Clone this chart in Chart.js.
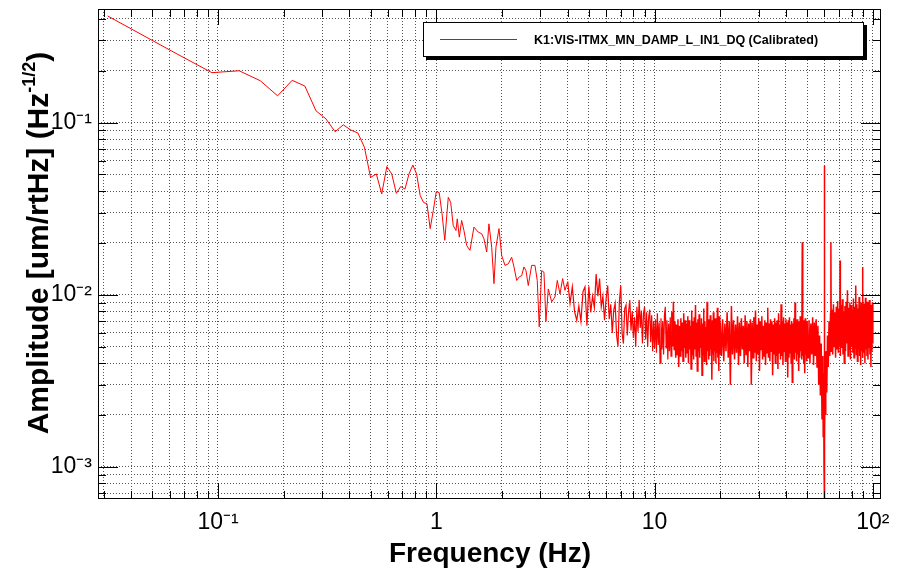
<!DOCTYPE html>
<html>
<head>
<meta charset="utf-8">
<script src="https://cdn.jsdelivr.net/npm/chart.js@4.4.0/dist/chart.umd.min.js"></script>
<style>
  html, body { margin: 0; padding: 0; background: #fff; }
  #wrap { position: relative; width: 902px; height: 577px; font-family: "Liberation Sans", Arial, sans-serif; color: #000; }
  #c { position: absolute; left: 0; top: 0; }
  .legend { position: absolute; left: 423px; top: 22px; width: 439px; height: 33px; border: 1px solid #000; background: #fff; box-shadow: 3px 3px 0 #000; }
  .legend .swatch { position: absolute; left: 16px; top: 16px; width: 77px; border-top: 1px solid #ff0000; }
  .legend .label { position: absolute; left: 110px; top: 10px; font-weight: bold; font-size: 12.5px; line-height: 14px; white-space: nowrap; }
  .xtitle { position: absolute; left: 290px; width: 400px; top: 538px; text-align: center; font-weight: bold; font-size: 28px; line-height: 30px; white-space: nowrap; }
  .ytitle { position: absolute; left: -212px; width: 500px; top: 226px; height: 34px; text-align: center; font-weight: bold; font-size: 30px; line-height: 34px; white-space: nowrap; transform: rotate(-90deg); }
  .ytitle sup { font-size: 18px; vertical-align: 13px; line-height: 0; }
</style>
</head>
<body>
<div id="wrap">
  <canvas id="c" width="902" height="577"></canvas>
  <div class="legend"><div class="swatch"></div><div class="label">K1:VIS-ITMX_MN_DAMP_L_IN1_DQ (Calibrated)</div></div>
  <div class="xtitle">Frequency (Hz)</div>
  <div class="ytitle">Amplitude [um/rtHz] (Hz<sup>-1/2</sup>)</div>
</div>
<script>
// ---- data ----
// low frequency part (bins of 1/32 Hz, then traced turning points)
const lowFreq = [0.03125, 0.0625, 0.09375, 0.125, 0.15625, 0.1875, 0.21875, 0.25, 0.28125, 0.3125,
  0.34375, 0.375, 0.40625, 0.4375, 0.46875, 0.5, 0.53125, 0.5625, 0.59375, 0.625,
  0.65625, 0.6875, 0.71875, 0.75, 0.78125, 0.8125, 0.84375, 0.875, 0.90625, 0.9375,
  0.96875, 1.0, 1.03125, 1.0625, 1.09375,
  1.135, 1.164, 1.196, 1.231, 1.248, 1.275, 1.307, 1.339, 1.378, 1.427,
  1.488, 1.557, 1.614, 1.654, 1.702, 1.743, 1.794, 1.838, 1.877, 1.938,
  1.994, 2.064, 2.137, 2.215, 2.270, 2.335, 2.400, 2.462, 2.522, 2.576,
  2.639, 2.735, 2.832, 2.901, 2.963, 3.039, 3.114, 3.180, 3.259, 3.378,
  3.498, 3.584, 3.688, 3.793, 3.887];
const lowAmp = [0.416, 0.257, 0.195, 0.200, 0.175, 0.143, 0.176, 0.163, 0.117, 0.105,
  0.0885, 0.097, 0.0905, 0.0869, 0.0718, 0.048, 0.0503, 0.0385, 0.0555, 0.0503,
  0.0388, 0.0425, 0.0411, 0.0503, 0.0567, 0.0503, 0.0377, 0.0343, 0.0338, 0.0242,
  0.0308, 0.0397, 0.0392, 0.0296, 0.0207,
  0.0368, 0.0344, 0.0252, 0.0236, 0.0276, 0.0216, 0.0270, 0.0236, 0.0193, 0.0181,
  0.0247, 0.0231, 0.0226, 0.0211, 0.0177, 0.0258, 0.0189, 0.0116, 0.0189, 0.0242,
  0.0169, 0.0148, 0.0151, 0.0165, 0.0145, 0.0121, 0.0127, 0.0129, 0.0145, 0.0138,
  0.0113, 0.0148, 0.0148, 0.0121, 0.0065, 0.0138, 0.0135, 0.0070, 0.0108, 0.0091,
  0.0097, 0.0121, 0.0101, 0.0124, 0.0106];

// 4 - 20 Hz
const midFreq = [4.0, 4.1, 4.2, 4.3, 4.4, 4.5, 4.6, 4.7, 4.8, 4.9,
  5.0, 5.1, 5.2, 5.3, 5.4, 5.5, 5.6, 5.7, 5.8, 5.9,
  6.0, 6.1, 6.2, 6.3, 6.4, 6.5, 6.6, 6.7, 6.8, 6.9,
  7.0, 7.1, 7.2, 7.3, 7.4, 7.5, 7.6, 7.7, 7.8, 7.9,
  8.0, 8.1, 8.2, 8.3, 8.4, 8.5, 8.6, 8.7, 8.8, 8.9,
  9.0, 9.1, 9.2, 9.3, 9.4, 9.5, 9.6, 9.7, 9.8, 9.9,
  10.0, 10.1, 10.2, 10.3, 10.4, 10.5, 10.6, 10.7, 10.8, 10.9,
  11.0, 11.1, 11.2, 11.3, 11.4, 11.5, 11.6, 11.7, 11.8, 11.9,
  12.0, 12.1, 12.2, 12.3, 12.4, 12.5, 12.6, 12.7, 12.8, 12.9,
  13.0, 13.1, 13.2, 13.3, 13.4, 13.5, 13.6, 13.7, 13.8, 13.9,
  14.0, 14.1, 14.2, 14.3, 14.4, 14.5, 14.6, 14.7, 14.8, 14.9,
  15.0, 15.1, 15.2, 15.3, 15.4, 15.5, 15.6, 15.7, 15.8, 15.9,
  16.0, 16.1, 16.2, 16.3, 16.4, 16.5, 16.6, 16.7, 16.8, 16.9,
  17.0, 17.1, 17.2, 17.3, 17.4, 17.5, 17.6, 17.7, 17.8, 17.9,
  18.0, 18.1, 18.2, 18.3, 18.4, 18.5, 18.6, 18.7, 18.8, 18.9,
  19.0, 19.1, 19.2, 19.3, 19.4, 19.5, 19.6, 19.7, 19.8, 19.9,
  20.0];
const midAmp = [0.0119, 0.0089, 0.0111, 0.0080, 0.0071, 0.0086, 0.0070, 0.0104, 0.0111, 0.0066,
  0.0112, 0.0079, 0.0098, 0.0084, 0.0132, 0.0098, 0.0124, 0.0085, 0.0098, 0.0071,
  0.0095, 0.0113, 0.0072, 0.0088, 0.0060, 0.0081, 0.0089, 0.0058, 0.0050, 0.0091,
  0.0113, 0.0060, 0.0052, 0.0083, 0.0087, 0.0058, 0.0079, 0.0093, 0.0062, 0.0080,
  0.0056, 0.0074, 0.0050, 0.0085, 0.0061, 0.0093, 0.0064, 0.0081, 0.0052, 0.0078,
  0.0085, 0.0055, 0.0079, 0.0050, 0.0074, 0.0082, 0.0053, 0.0076, 0.0047, 0.0070,
  0.0049, 0.0072, 0.0046, 0.0078, 0.0051, 0.0069, 0.0040, 0.0073, 0.0048, 0.0070,
  0.0045, 0.0076, 0.0085, 0.0049, 0.0071, 0.0042, 0.0068, 0.0047, 0.0074, 0.0044,
  0.0079, 0.0050, 0.0091, 0.0048, 0.0070, 0.0043, 0.0067, 0.0045, 0.0072, 0.0038,
  0.0066, 0.0044, 0.0073, 0.0047, 0.0069, 0.0041, 0.0078, 0.0049, 0.0071, 0.0043,
  0.0068, 0.0046, 0.0075, 0.0040, 0.0071, 0.0048, 0.0066, 0.0037, 0.0081, 0.0045,
  0.0070, 0.0042, 0.0074, 0.0048, 0.0087, 0.0044, 0.0069, 0.0036, 0.0072, 0.0047,
  0.0077, 0.0043, 0.0066, 0.0049, 0.0073, 0.0034, 0.0068, 0.0045, 0.0083, 0.0041,
  0.0070, 0.0046, 0.0065, 0.0039, 0.0091, 0.0047, 0.0072, 0.0042, 0.0067, 0.0044,
  0.0076, 0.0048, 0.0069, 0.0032, 0.0071, 0.0045, 0.0079, 0.0041, 0.0066, 0.0047,
  0.0073, 0.0040, 0.0070, 0.0046, 0.0084, 0.0043, 0.0068, 0.0036, 0.0075, 0.0045,
  0.0069];

// 20 - 50 Hz
const hiFreq = [20.25, 20.5, 20.75, 21, 21.25, 21.5, 21.75, 22, 22.25, 22.5, 22.75, 23,
  23.25, 23.5, 23.75, 24, 24.25, 24.5, 24.75, 25, 25.25, 25.5, 25.75, 26,
  26.25, 26.5, 26.75, 27, 27.25, 27.5, 27.75, 28, 28.25, 28.5, 28.75, 29,
  29.25, 29.5, 29.75, 30, 30.25, 30.5, 30.75, 31, 31.25, 31.5, 31.75, 32,
  32.25, 32.5, 32.75, 33, 33.25, 33.5, 33.75, 34, 34.25, 34.5, 34.75, 35,
  35.25, 35.5, 35.75, 36, 36.25, 36.5, 36.75, 37, 37.25, 37.5, 37.75, 38,
  38.25, 38.5, 38.75, 39, 39.25, 39.5, 39.75, 40, 40.25, 40.5, 40.75, 41,
  41.25, 41.5, 41.75, 42, 42.25, 42.5, 42.75, 43, 43.25, 43.5, 43.75, 44,
  44.25, 44.5, 44.75, 45, 45.25, 45.5, 45.75, 46, 46.25, 46.5, 46.75, 47,
  47.25, 47.5, 47.75, 48, 48.25, 48.5, 48.75, 49, 49.25, 49.5, 49.75, 50];
const hiAmp = [0.0044, 0.0072, 0.0041, 0.0068, 0.0047, 0.0079, 0.0043, 0.0070, 0.0030, 0.0086, 0.0045, 0.0071,
  0.0042, 0.0067, 0.0046, 0.0075, 0.0039, 0.0069, 0.0044, 0.0073, 0.0048, 0.0066, 0.0040, 0.0076,
  0.0045, 0.0070, 0.0038, 0.0068, 0.0047, 0.0072, 0.0030, 0.0069, 0.0043, 0.0074, 0.0046, 0.0081,
  0.0041, 0.0067, 0.0045, 0.0073, 0.0036, 0.0070, 0.0048, 0.0075, 0.0042, 0.0066, 0.0044, 0.0071,
  0.0039, 0.0069, 0.0046, 0.0084, 0.0043, 0.0068, 0.0041, 0.0072, 0.0047, 0.0070, 0.0034, 0.0067,
  0.0045, 0.0073, 0.0040, 0.0069, 0.0044, 0.0071, 0.0037, 0.0078, 0.0046, 0.0067, 0.0042, 0.0088,
  0.0044, 0.0070, 0.0039, 0.0074, 0.0047, 0.0068, 0.0041, 0.0072, 0.0045, 0.0069, 0.0033, 0.0071,
  0.0043, 0.0074, 0.0046, 0.0067, 0.0040, 0.0070, 0.0031, 0.0068, 0.0044, 0.0073, 0.0042, 0.0090,
  0.0046, 0.0069, 0.0041, 0.0072, 0.0045, 0.0070, 0.0036, 0.0068, 0.0043, 0.0075, 0.0047, 0.0066,
  0.0042, 0.0202, 0.0044, 0.0071, 0.0040, 0.0068, 0.0035, 0.0073, 0.0045, 0.0069, 0.0041, 0.0070];

// 50 - 100 Hz (60 Hz line and notch)
const topFreq = [50.5, 51, 51.5, 52, 52.5, 53, 53.5, 54, 54.5, 55, 55.5, 56, 56.5, 57, 57.5, 58, 58.5, 59,
  59.25, 59.5, 59.75, 59.9, 60, 60.1, 60.25, 60.5, 60.75, 61, 61.5, 62, 62.5, 63, 63.5, 64, 64.25, 64.5,
  65, 65.5, 66, 66.5, 67, 67.5, 68, 68.5, 69, 69.5, 70, 70.5, 70.75, 71, 71.5, 72, 72.5, 73, 73.5, 74,
  74.5, 75, 75.5, 76, 76.5, 77, 77.5, 78, 78.5, 79, 79.5, 80, 80.5, 81, 81.5, 82, 82.5, 83, 83.5, 84,
  84.5, 85, 85.5, 86, 86.5, 87, 87.5, 88, 88.5, 89, 89.5, 89.75, 90, 90.5, 91, 91.5, 92, 92.5, 93, 93.5,
  94, 94.5, 95, 95.5, 96, 96.5, 97, 97.5, 98, 98.5, 99, 99.5, 100];
const topAmp = [0.0043, 0.0071, 0.0040, 0.0068, 0.0045, 0.0074, 0.0039, 0.0069, 0.0044, 0.0072, 0.0038, 0.0066, 0.0030, 0.0058, 0.0026, 0.0052, 0.0019, 0.0044,
  0.0015, 0.0035, 0.0010, 0.0006, 0.0562, 0.0006, 0.0014, 0.0038, 0.0020, 0.0047, 0.0027, 0.0058, 0.0038, 0.0070, 0.0044, 0.0078, 0.0202, 0.0047,
  0.0082, 0.0045, 0.0088, 0.0050, 0.0079, 0.0043, 0.0085, 0.0048, 0.0092, 0.0046, 0.0083, 0.0051, 0.0158, 0.0044, 0.0087, 0.0049, 0.0094, 0.0045, 0.0080, 0.0040,
  0.0086, 0.0047, 0.0091, 0.0052, 0.0106, 0.0044, 0.0084, 0.0048, 0.0090, 0.0042, 0.0087, 0.0050, 0.0082, 0.0046, 0.0095, 0.0043, 0.0085, 0.0049, 0.0113, 0.0045,
  0.0088, 0.0041, 0.0083, 0.0048, 0.0097, 0.0044, 0.0086, 0.0039, 0.0090, 0.0047, 0.0084, 0.0145, 0.0043, 0.0089, 0.0046, 0.0082, 0.0040, 0.0096, 0.0048, 0.0085,
  0.0044, 0.0091, 0.0042, 0.0080, 0.0049, 0.0093, 0.0045, 0.0087, 0.0038, 0.0084, 0.0047, 0.0090, 0.0052];

// axis ticks
const xTickValues = [0.03, 0.04, 0.05, 0.06, 0.07, 0.08, 0.09,
  0.1, 0.2, 0.3, 0.4, 0.5, 0.6, 0.7, 0.8, 0.9,
  1, 2, 3, 4, 5, 6, 7, 8, 9,
  10, 20, 30, 40, 50, 60, 70, 80, 90, 100];
const xMajor = [0.1, 1, 10, 100];
const xMajorLabels = ["10\u207B\u00B9", "1", "10", "10\u00B2"];

const yTickValues = [0.0007, 0.0008, 0.0009,
  0.001, 0.002, 0.003, 0.004, 0.005, 0.006, 0.007, 0.008, 0.009,
  0.01, 0.02, 0.03, 0.04, 0.05, 0.06, 0.07, 0.08, 0.09,
  0.1, 0.2, 0.3, 0.4];
const yMajor = [0.001, 0.01, 0.1];
const yMajorLabels = ["10\u207B\u00B3", "10\u207B\u00B2", "10\u207B\u00B9"];

const FONT = '"Liberation Sans", Arial, sans-serif';

function toPoints(fs, as) {
  return fs.map((f, i) => ({ x: f, y: as[i] }));
}
const points = [].concat(
  toPoints(lowFreq, lowAmp),
  toPoints(midFreq, midAmp),
  toPoints(hiFreq, hiAmp),
  toPoints(topFreq, topAmp)
);

// ROOT style frame with inward ticks on all four sides
const frameTicks = {
  id: "frameTicks",
  afterDatasetsDraw(chart) {
    const { ctx, chartArea: a, scales: { x, y } } = chart;
    ctx.save();
    ctx.strokeStyle = "#000";
    ctx.lineWidth = 1;
    ctx.beginPath();
    xTickValues.forEach(v => {
      const px = Math.round(x.getPixelForValue(v)) + 0.5;
      const len = xMajor.includes(v) ? 16 : 8;
      ctx.moveTo(px, a.bottom); ctx.lineTo(px, a.bottom - len);
      ctx.moveTo(px, a.top); ctx.lineTo(px, a.top + len);
    });
    yTickValues.forEach(v => {
      const py = Math.round(y.getPixelForValue(v)) + 0.5;
      const len = yMajor.includes(v) ? 20 : 8;
      ctx.moveTo(a.left, py); ctx.lineTo(a.left + len, py);
      ctx.moveTo(a.right, py); ctx.lineTo(a.right - len, py);
    });
    ctx.stroke();
    ctx.strokeRect(a.left + 0.5, a.top + 0.5, a.right - a.left - 1, a.bottom - a.top - 1);
    ctx.restore();
  }
};

new Chart(document.getElementById("c"), {
  type: "line",
  data: {
    datasets: [{
      data: points,
      borderColor: "#ff0000",
      borderWidth: 1,
      pointRadius: 0,
      fill: false,
      tension: 0,
      // the dense noise floor reads as a solid band in the original
      segment: { borderWidth: c => c.p0.parsed.x >= 12 ? 1.5 : (c.p0.parsed.x >= 4 ? 1.2 : 1) },
    }],
  },
  options: {
    responsive: false,
    animation: false,
    devicePixelRatio: 1,
    layout: { padding: { left: 0, right: 21, top: 9, bottom: 0 } },
    plugins: { legend: { display: false }, tooltip: { enabled: false } },
    scales: {
      x: {
        type: "logarithmic",
        min: 0.0282,
        max: 109,
        afterBuildTicks: s => { s.ticks = xTickValues.map(v => ({ value: v })); },
        afterFit: s => { s.height = 78; s.paddingLeft = 0; s.paddingRight = 0; },
        grid: { color: "#555", lineWidth: 1, drawTicks: false },
        border: { display: false, dash: [1, 2] },
        ticks: {
          autoSkip: false, maxRotation: 0, padding: 10, color: "#000",
          font: { family: FONT, size: 23 },
          callback: v => { const i = xMajor.indexOf(v); return i >= 0 ? xMajorLabels[i] : ""; },
        },
      },
      y: {
        type: "logarithmic",
        min: 0.00065,
        max: 0.457,
        afterBuildTicks: s => { s.ticks = yTickValues.map(v => ({ value: v })); },
        afterFit: s => { s.width = 98; s.paddingTop = 0; s.paddingBottom = 0; },
        grid: { color: "#555", lineWidth: 1, drawTicks: false },
        border: { display: false, dash: [1, 2] },
        ticks: {
          autoSkip: false, padding: 6, color: "#000",
          font: { family: FONT, size: 23 },
          callback: v => { const i = yMajor.indexOf(v); return i >= 0 ? yMajorLabels[i] : ""; },
        },
      },
    },
  },
  plugins: [frameTicks],
});
</script>
</body>
</html>
